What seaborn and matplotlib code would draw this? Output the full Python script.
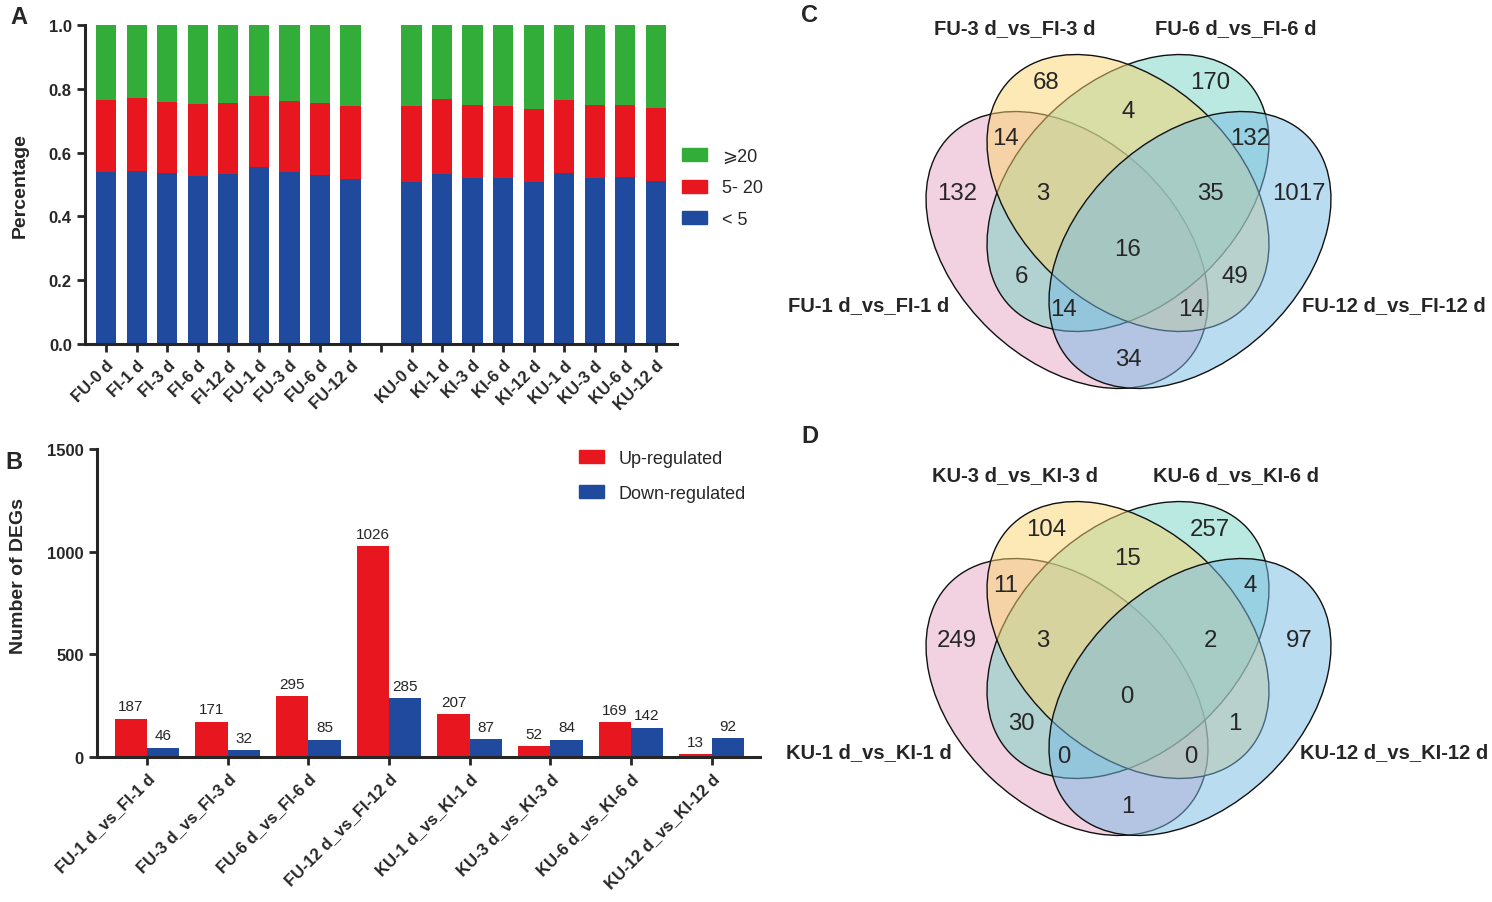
import numpy as np
import pandas as pd
import matplotlib.pyplot as plt
import seaborn as sns
from matplotlib.patches import Ellipse, Patch
from matplotlib.colors import to_rgba

sns.set_style("ticks")
plt.rcParams['font.family'] = ['Liberation Sans', 'DejaVu Sans']

W, H = 1492, 903

# ---- panel A data: fraction of genes per expression class
samples_fu = ["FU-0 d", "FI-1 d", "FI-3 d", "FI-6 d", "FI-12 d", "FU-1 d", "FU-3 d", "FU-6 d", "FU-12 d"]
samples_ku = ["KU-0 d", "KI-1 d", "KI-3 d", "KI-6 d", "KI-12 d", "KU-1 d", "KU-3 d", "KU-6 d", "KU-12 d"]
lt5 = [0.538, 0.543, 0.536, 0.526, 0.534, 0.555, 0.538, 0.530, 0.518,
       0.508, 0.532, 0.521, 0.520, 0.508, 0.537, 0.521, 0.524, 0.511]
mid5_20 = [0.227, 0.228, 0.223, 0.226, 0.220, 0.223, 0.224, 0.225, 0.228,
           0.239, 0.236, 0.227, 0.225, 0.229, 0.229, 0.228, 0.225, 0.228]
ge20 = [0.235, 0.229, 0.241, 0.248, 0.246, 0.222, 0.238, 0.245, 0.254,
        0.253, 0.232, 0.252, 0.255, 0.263, 0.234, 0.251, 0.251, 0.261]
legend_a = ["\u2a7e20", "5- 20", "< 5"]

# ---- panel B data: number of DEGs
comparisons = ["FU-1 d_vs_FI-1 d", "FU-3 d_vs_FI-3 d", "FU-6 d_vs_FI-6 d", "FU-12 d_vs_FI-12 d",
               "KU-1 d_vs_KI-1 d", "KU-3 d_vs_KI-3 d", "KU-6 d_vs_KI-6 d", "KU-12 d_vs_KI-12 d"]
up_reg = [187, 171, 295, 1026, 207, 52, 169, 13]
down_reg = [46, 32, 85, 285, 87, 84, 142, 92]

# ---- panels C/D: venn region counts (set order 1..4)
regions = ["1", "2", "3", "4", "12", "13", "14", "23", "24", "34", "123", "124", "134", "234", "1234"]
venn_c_sets = ["FU-1 d_vs_FI-1 d", "FU-3 d_vs_FI-3 d", "FU-6 d_vs_FI-6 d", "FU-12 d_vs_FI-12 d"]
venn_c_counts = [132, 68, 170, 1017, 14, 6, 34, 4, 49, 132, 3, 14, 14, 35, 16]
venn_d_sets = ["KU-1 d_vs_KI-1 d", "KU-3 d_vs_KI-3 d", "KU-6 d_vs_KI-6 d", "KU-12 d_vs_KI-12 d"]
venn_d_counts = [249, 104, 257, 97, 11, 30, 1, 15, 1, 4, 3, 0, 0, 2, 0]

green, red, blue = "#33ad3a", "#e8171f", "#1f4a9e"
venn_cols = ["#e7a4c4", "#fad46e", "#74d4c2", "#76bbe4"]


def px_rect(x0, y0, x1, y1):
    return [x0 / W, 1 - y1 / H, (x1 - x0) / W, (y1 - y0) / H]


def style_axis(ax):
    sns.despine(ax=ax)
    for s in ["left", "bottom"]:
        ax.spines[s].set_linewidth(2.2)
    ax.tick_params(direction="out", length=6, width=2, labelsize=12)
    for t in ax.get_yticklabels():
        t.set_fontweight("bold")


fig = plt.figure(figsize=(W / 100, H / 100), dpi=100)

# ================= A
axA = fig.add_axes(px_rect(85, 26, 677, 345))
order = samples_fu + [" "] + samples_ku
dfA = pd.DataFrame({"sample": samples_fu + samples_ku, "lt5": lt5, "mid": mid5_20, "ge20": ge20})
dfA["top"] = dfA["lt5"] + dfA["mid"] + dfA["ge20"]
dfA["midtop"] = dfA["lt5"] + dfA["mid"]
for col, c in [("top", green), ("midtop", red), ("lt5", blue)]:
    sns.barplot(data=dfA, x="sample", y=col, order=order, color=c, width=0.66,
                saturation=1, errorbar=None, linewidth=0, ax=axA)
axA.set_xlim(-0.7, 18.7)
axA.set_ylim(0, 1.0)
axA.set_yticks(np.arange(0, 1.01, 0.2))
axA.set_yticklabels([f"{v:.1f}" for v in np.arange(0, 1.01, 0.2)])
axA.set_xticks(range(len(order)))
axA.set_xticklabels(order, rotation=45, ha="right", rotation_mode="anchor",
                    fontweight="bold", fontsize=11.5)
axA.set_xlabel("")
axA.set_ylabel("Percentage", fontsize=14, fontweight="bold")
axA.yaxis.set_label_coords(-0.095, 0.5)
style_axis(axA)

hA = [Patch(color=green), Patch(color=red), Patch(color=blue)]
fig.legend(hA, legend_a, loc="upper left", bbox_to_anchor=(682 / W, 1 - 149 / H),
           frameon=False, fontsize=13, handlelength=1.4, handleheight=0.75,
           labelspacing=0.8, handletextpad=0.8, borderpad=0, borderaxespad=0)

# ================= B
axB = fig.add_axes(px_rect(97, 450, 760, 758))
dfB = pd.DataFrame({"comp": comparisons * 2,
                    "reg": ["Up-regulated"] * 8 + ["Down-regulated"] * 8,
                    "count": up_reg + down_reg})
sns.barplot(data=dfB, x="comp", y="count", hue="reg", palette=[red, blue], width=0.8,
            saturation=1, errorbar=None, linewidth=0, legend=False, ax=axB)
for cont in axB.containers:
    axB.bar_label(cont, padding=4, fontsize=11)
axB.set_xlim(-0.62, 7.6)
axB.set_ylim(0, 1500)
axB.set_yticks([0, 500, 1000, 1500])
axB.set_xticks(range(len(comparisons)))
axB.set_xticklabels(comparisons, rotation=45, ha="right", rotation_mode="anchor",
                    fontweight="bold", fontsize=12)
axB.set_xlabel("")
axB.set_ylabel("Number of DEGs", fontsize=14, fontweight="bold")
axB.yaxis.set_label_coords(-0.106, 0.59)
style_axis(axB)

hB = [Patch(color=red), Patch(color=blue)]
fig.legend(hB, ["Up-regulated", "Down-regulated"], loc="upper left",
           bbox_to_anchor=(579 / W, 1 - 451 / H), frameon=False, fontsize=13,
           handlelength=1.4, handleheight=0.75, labelspacing=0.97, handletextpad=0.8,
           borderpad=0, borderaxespad=0)

# ================= C / D venn
# ellipse geometry in pixel units of the panel: centre x, centre y, width, height, angle
shapes = [(287, 251, 327, 222, 43.6),
          (348, 194, 327, 222, 43.6),
          (348, 194, 327, 222, 136.4),
          (410, 251, 327, 222, 136.4)]
draw_order = [0, 2, 1, 3]
region_xy = {"1": (177, 194), "2": (266, 83), "3": (430, 83), "4": (519, 194),
             "12": (226, 139), "13": (241, 277), "14": (348, 360), "23": (348, 112),
             "24": (455, 277), "34": (470, 139), "123": (263, 194), "124": (411, 310),
             "134": (284, 310), "234": (430, 194), "1234": (347, 250)}
set_xy = [(89, 306), (235, 29), (456, 29), (614, 306)]


def draw_venn(ax, sets, counts):
    for i in draw_order:
        cx, cy, w, h, ang = shapes[i]
        ax.add_patch(Ellipse((cx, cy), w, h, angle=ang, facecolor=to_rgba(venn_cols[i], 0.5),
                             edgecolor="#111111", linewidth=1.0))
    for r, n in zip(regions, counts):
        x, y = region_xy[r]
        ax.text(x, y, str(n), ha="center", va="center", fontsize=17.3)
    for (x, y), s in zip(set_xy, sets):
        ax.text(x, y, s, ha="center", va="center", fontsize=14.5, fontweight="bold")
    ax.set_xlim(0, 712)
    ax.set_ylim(410, 0)
    ax.axis("off")


axC = fig.add_axes(px_rect(780, 0, 1492, 410))
draw_venn(axC, venn_c_sets, venn_c_counts)
axD = fig.add_axes(px_rect(780, 447, 1492, 857))
draw_venn(axD, venn_d_sets, venn_d_counts)

# panel letters
for s, x, y in [("A", 19, 18), ("B", 14, 463), ("C", 810, 15), ("D", 810, 437)]:
    fig.text(x / W, 1 - y / H, s, fontsize=17, fontweight="bold", ha="center", va="center")

fig.savefig("out.png", dpi=100)
